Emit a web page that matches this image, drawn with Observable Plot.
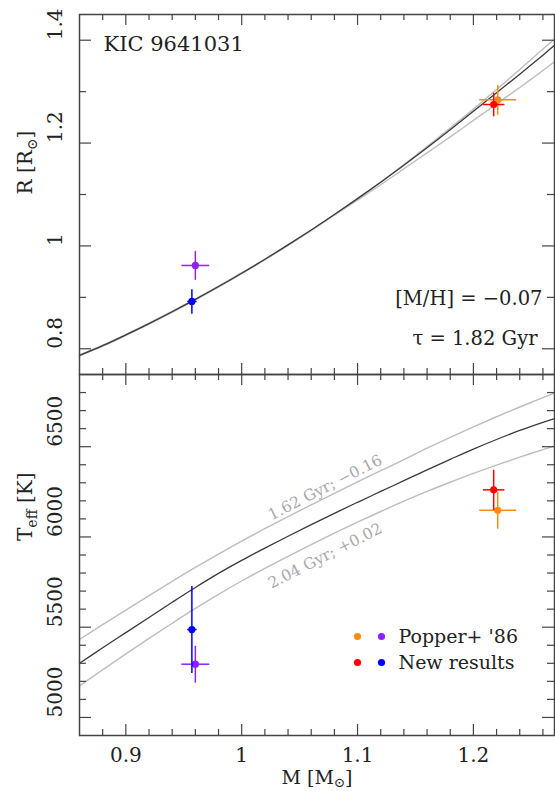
<!DOCTYPE html>
<html>
<head>
<meta charset="utf-8">
<script src="https://cdn.jsdelivr.net/npm/d3@7"></script>
<script src="https://cdn.jsdelivr.net/npm/@observablehq/plot@0.6"></script>
<style>
  html, body { margin: 0; padding: 0; background: #fff; }
  svg { display: block; }
</style>
</head>
<body>
<div id="chart"></div>
<script>
// ---------- model isochrone curves ----------
const massGrid = [0.86,0.88,0.90,0.92,0.94,0.96,0.98,1.00,1.02,1.04,1.06,1.08,1.10,1.12,1.14,1.16,1.18,1.20,1.22,1.24,1.26,1.27];
const radiusMain  = [0.787,0.806,0.827,0.849,0.872,0.896,0.921,0.947,0.974,1.002,1.031,1.061,1.092,1.124,1.157,1.191,1.226,1.262,1.298,1.334,1.371,1.390];
const radiusYoung = [0.786,0.805,0.826,0.848,0.871,0.895,0.920,0.946,0.973,1.001,1.030,1.061,1.092,1.124,1.158,1.193,1.229,1.266,1.304,1.343,1.383,1.402];
const radiusOld   = [0.788,0.807,0.828,0.850,0.873,0.897,0.922,0.948,0.974,1.002,1.030,1.060,1.089,1.119,1.150,1.181,1.212,1.244,1.276,1.308,1.341,1.358];
const teffMain  = [5300,5386,5470,5554,5638,5720,5798,5870,5938,6004,6068,6131,6192,6252,6312,6372,6430,6487,6540,6590,6635,6656];
const teffYoung = [5432,5514,5595,5675,5754,5831,5905,5977,6046,6113,6178,6242,6305,6367,6428,6492,6552,6610,6666,6720,6772,6797];
const teffOld   = [5175,5264,5352,5438,5522,5604,5682,5756,5826,5893,5958,6021,6082,6141,6198,6252,6303,6352,6398,6442,6484,6504];

// ---------- measured stars ----------
const starSource = ["Popper+ '86", "Popper+ '86", "New results", "New results"];
const starColor  = ["#ff8a10", "#9020ff", "#ff0000", "#0000ff"];
const starMass      = [1.221, 0.960, 1.2175, 0.957];
const starMassErr   = [0.016, 0.012, 0.0093, 0.004];
const starRadius    = [1.284, 0.962, 1.275, 0.892];
const starRadiusErr = [0.029, 0.028, 0.023, 0.024];
const starTeff      = [6148, 5295, 6261, 5487];
const starTeffErr   = [102, 102, 111, 241];

// ---------- ticks ----------
const massTicks = [0.9, 1.0, 1.1, 1.2];
const massTickLabels = ["0.9", "1", "1.1", "1.2"];
const massMinor = [0.88,0.92,0.94,0.96,0.98,1.02,1.04,1.06,1.08,1.12,1.14,1.16,1.18,1.22,1.24,1.26];
const radiusTicks = [0.8, 1.0, 1.2, 1.4];
const radiusTickLabels = ["0.8", "1", "1.2", "1.4"];
const radiusMinor = [0.9, 1.1, 1.3];
const teffTicks = [5000, 5500, 6000, 6500];
const teffTickLabels = ["5000", "5500", "6000", "6500"];
const teffMinor = [5100,5200,5300,5400,5600,5700,5800,5900,6100,6200,6300,6400,6600,6700,6800];

// ---------- texts ----------
const starName = "KIC 9641031";
const metalText = "[M/H] = −0.07";
const ageText = "τ = 1.82 Gyr";
const isoLabels = ["1.62 Gyr; −0.16", "2.04 Gyr; +0.02"];
const isoLabelMass = [1.072, 1.072];
const isoLabelTeff = [6274, 5895];
const legendLabels = ["Popper+ '86", "New results"];

const FONT = "'DejaVu Serif', serif";
const INK = "#222";
const AX = "#444";
const W = 555, ML = 79, MR = 1;
const FW = W - ML - MR;

const curves = massGrid.map((m, i) => ({
  m, rMain: radiusMain[i], rYoung: radiusYoung[i], rOld: radiusOld[i],
  tMain: teffMain[i], tYoung: teffYoung[i], tOld: teffOld[i]
}));
const stars = starMass.map((m, i) => ({
  m, dm: starMassErr[i], r: starRadius[i], dr: starRadiusErr[i],
  t: starTeff[i], dt: starTeffErr[i], color: starColor[i], source: starSource[i]
}));

function frameTicks(fh, xMaj, xMin, yMaj, yMin) {
  const s = {stroke: AX, strokeWidth: 1.2};
  return [
    Plot.ruleX(xMaj, {...s, insetTop: fh - 11}),
    Plot.ruleX(xMaj, {...s, insetBottom: fh - 11}),
    Plot.ruleX(xMin, {...s, insetTop: fh - 6}),
    Plot.ruleX(xMin, {...s, insetBottom: fh - 6}),
    Plot.ruleY(yMaj, {...s, insetRight: FW - 12}),
    Plot.ruleY(yMaj, {...s, insetLeft: FW - 12}),
    Plot.ruleY(yMin, {...s, insetRight: FW - 7}),
    Plot.ruleY(yMin, {...s, insetLeft: FW - 7})
  ];
}

function starMarks(key, errKey) {
  const marks = [];
  stars.forEach(s => {
    marks.push(Plot.link([s], {x1: d => d.m - d.dm, x2: d => d.m + d.dm, y1: d => d[key], y2: d => d[key], stroke: s.color, strokeWidth: 1.5}));
    marks.push(Plot.link([s], {x1: d => d.m, x2: d => d.m, y1: d => d[key] - d[errKey], y2: d => d[key] + d[errKey], stroke: s.color, strokeWidth: 1.5}));
    marks.push(Plot.dot([s], {x: "m", y: key, r: 3.6, fill: s.color, stroke: "none"}));
  });
  return marks;
}

const T = (opts) => ({fontFamily: FONT, fill: INK, ...opts});
const lineOpts = (y, stroke, w) => ({x: "m", y, stroke, strokeWidth: w, curve: "catmull-rom"});

const FH1 = 360;
const topPlot = Plot.plot({
  width: W, height: 374, marginTop: 14, marginBottom: 0, marginLeft: ML, marginRight: MR,
  style: {fontFamily: FONT, background: "white", overflow: "visible"},
  x: {domain: [0.86, 1.27], axis: null},
  y: {domain: [0.75, 1.45], axis: null},
  marks: [
    Plot.line(curves, lineOpts("rYoung", "#bdbdbd", 1.4)),
    Plot.line(curves, lineOpts("rOld", "#bdbdbd", 1.4)),
    Plot.line(curves, lineOpts("rMain", "#3a3a3a", 1.3)),
    ...starMarks("r", "dr"),
    ...frameTicks(FH1, massTicks, massMinor, radiusTicks, radiusMinor),
    Plot.frame({stroke: AX, strokeWidth: 1.5}),
    Plot.text(radiusTicks, T({y: d => d, text: (d, i) => radiusTickLabels[i], frameAnchor: "left", dx: -24, rotate: -90, fontSize: 20})),
    Plot.text([0], T({text: () => "R [R⊙]", frameAnchor: "left", dx: -54, rotate: -90, fontSize: 20})),
    Plot.text([0], T({text: () => starName, frameAnchor: "top-left", dx: 24, dy: 30, textAnchor: "start", lineAnchor: "middle", fontSize: 21})),
    Plot.text([0], T({text: () => metalText, frameAnchor: "bottom-right", dx: -12, dy: -76, textAnchor: "end", lineAnchor: "middle", fontSize: 19.5})),
    Plot.text([0], T({text: () => ageText, frameAnchor: "bottom-right", dx: -17, dy: -36, textAnchor: "end", lineAnchor: "middle", fontSize: 19.5}))
  ]
});

const FH2 = 361;
const botPlot = Plot.plot({
  width: W, height: 417, marginTop: 0, marginBottom: 56, marginLeft: ML, marginRight: MR,
  style: {fontFamily: FONT, background: "white", overflow: "visible"},
  x: {domain: [0.86, 1.27], axis: null},
  y: {domain: [4900, 6900], axis: null},
  marks: [
    Plot.line(curves, lineOpts("tYoung", "#bdbdbd", 1.4)),
    Plot.line(curves, lineOpts("tOld", "#bdbdbd", 1.4)),
    Plot.line(curves, lineOpts("tMain", "#3a3a3a", 1.3)),
    Plot.text(isoLabels, {x: (d, i) => isoLabelMass[i], y: (d, i) => isoLabelTeff[i], text: d => d, rotate: -27, fontSize: 15.5, fontFamily: FONT, fill: "#a8a8a8"}),
    ...starMarks("t", "dt"),
    ...frameTicks(FH2, massTicks, massMinor, teffTicks, teffMinor),
    Plot.frame({stroke: AX, strokeWidth: 1.5}),
    Plot.text(teffTicks, T({y: d => d, text: (d, i) => teffTickLabels[i], frameAnchor: "left", dx: -24, rotate: -90, fontSize: 20})),
    Plot.text(massTicks, T({x: d => d, text: (d, i) => massTickLabels[i], frameAnchor: "bottom", dy: 20, lineAnchor: "middle", fontSize: 20})),
    Plot.text([0], T({text: () => "Teff [K]", frameAnchor: "left", dx: -54, dy: -14, rotate: -90, fontSize: 20})),
    Plot.text([0], T({text: () => "M [M⊙]", frameAnchor: "bottom", dy: 42, lineAnchor: "middle", fontSize: 19})),
    // legend (pixel offsets from the frame's bottom-right corner)
    Plot.dot([0], {frameAnchor: "bottom-right", dx: -197, dy: -99, r: 3.6, fill: starColor[0]}),
    Plot.dot([0], {frameAnchor: "bottom-right", dx: -173, dy: -99, r: 3.6, fill: starColor[1]}),
    Plot.dot([0], {frameAnchor: "bottom-right", dx: -197, dy: -73, r: 3.6, fill: starColor[2]}),
    Plot.dot([0], {frameAnchor: "bottom-right", dx: -173, dy: -73, r: 3.6, fill: starColor[3]}),
    Plot.text([0], T({text: () => legendLabels[0], frameAnchor: "bottom-right", dx: -156, dy: -99, textAnchor: "start", lineAnchor: "middle", fontSize: 19})),
    Plot.text([0], T({text: () => legendLabels[1], frameAnchor: "bottom-right", dx: -156, dy: -73, textAnchor: "start", lineAnchor: "middle", fontSize: 19}))
  ]
});

const chart = document.getElementById("chart");
chart.appendChild(topPlot);
chart.appendChild(botPlot);

// subscripts
function subscript(svg, full, base, sub, rest, shift) {
  d3.select(svg).selectAll("text").filter(function() { return this.textContent === full; }).each(function() {
    const t = d3.select(this);
    t.text(null);
    t.append("tspan").text(base);
    t.append("tspan").attr("font-size", "70%").attr("dy", shift + "em").text(sub);
    t.append("tspan").attr("dy", (-shift * 0.7) + "em").text(rest);
  });
}
subscript(topPlot, "R [R⊙]", "R [R", "⊙", "]", 0.35);
subscript(botPlot, "Teff [K]", "T", "eff", " [K]", 0.35);
subscript(botPlot, "M [M⊙]", "M [M", "⊙", "]", 0.25);
</script>
</body>
</html>
